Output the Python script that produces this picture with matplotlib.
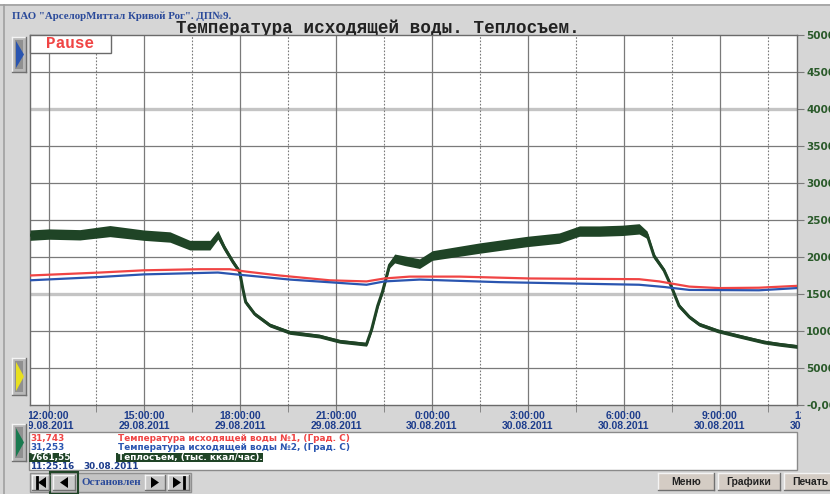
import numpy as np
import matplotlib.pyplot as plt
from matplotlib.patches import Rectangle, Polygon
from matplotlib.transforms import Bbox, TransformedBbox, blended_transform_factory

# hours since 11:25:16 29.08.2011 (24 h window)
heat_hours = [0, 0.59, 1.56, 2.5, 3.56, 4.38, 5.0, 5.63, 5.88, 6.09, 6.34, 6.56, 6.66,
              6.75, 7.03, 7.5, 8.13, 9.06, 9.69, 10.53, 10.69, 10.88, 11.03, 11.25, 11.41,
              11.72, 12.19, 12.59, 14.06, 15.56, 16.56, 17.19, 17.81, 18.53, 19.06, 19.31,
              19.53, 19.84, 20.06, 20.31, 20.63, 20.94, 21.53, 22.19, 22.97, 23.44, 24.0]
heat = [22950, 23100, 23000, 23500, 22950, 22700, 21600, 21600, 23000, 21200, 19400, 18000,
        15700, 13900, 12300, 10800, 9800, 9300, 8600, 8200, 10200, 13400, 15300, 18900, 19800,
        19500, 19100, 20200, 21200, 22100, 22550, 23500, 23500, 23600, 23800, 23000, 20100,
        18200, 16100, 13400, 11900, 10900, 10000, 9300, 8500, 8200, 7900]
heat_noise = [700, 700, 700, 750, 700, 700, 650, 650, 600, 400, 350, 300, 300, 300, 250, 250,
              250, 250, 250, 250, 300, 300, 300, 400, 600, 650, 650, 650, 700, 700, 700, 700,
              700, 700, 700, 500, 350, 300, 300, 300, 250, 250, 250, 250, 250, 250, 250]

red_hours = [0, 2.19, 3.56, 5.31, 6.25, 6.72, 7.81, 9.38, 10.53, 11.09, 11.88, 13.44, 15.63,
             19.06, 19.69, 20.63, 21.56, 22.81, 24.0]
temp1 = [35.0, 35.8, 36.4, 36.7, 36.7, 36.1, 35.0, 33.7, 33.4, 34.2, 34.7, 34.7, 34.2, 34.0,
         33.4, 32.0, 31.6, 31.7, 32.2]

blue_hours = [0, 2.19, 3.56, 5.88, 6.56, 8.13, 10.53, 11.09, 12.19, 14.69, 19.06, 19.84,
              20.63, 22.81, 24.0]
temp2 = [33.7, 34.6, 35.3, 35.8, 35.2, 33.9, 32.5, 33.4, 33.9, 33.2, 32.5, 31.9, 31.1, 31.0, 31.6]

tick_hours = [0.579 + 3 * k for k in range(9)]
tick_times = ["12:00:00", "15:00:00", "18:00:00", "21:00:00", "0:00:00", "3:00:00",
              "6:00:00", "9:00:00", "12:00:00"]
tick_dates = ["29.08.2011"] * 4 + ["30.08.2011"] * 5
y_ticks = list(range(0, 50001, 5000))
y_labels = ["-0,00"] + [str(v) for v in y_ticks[1:]]

W, H = 830, 494
BG = "#d6d6d6"
GREEN = "#1f4426"
RED = "#f04444"
BLUE = "#2a55b0"
NAVY = "#1c3c8c"


def px(x0, y0, x1, y1):
    return [x0 / W, 1 - y1 / H, (x1 - x0) / W, (y1 - y0) / H]


def button(a, x0, y0, x1, y1, face="#c8c8c8"):
    a.add_patch(Rectangle((x0, y0), x1 - x0, y1 - y0, facecolor=face, edgecolor="none"))
    a.plot([x0, x1], [y0, y0], color="#f4f4f4", lw=1)
    a.plot([x0, x0], [y0, y1], color="#f4f4f4", lw=1)
    a.plot([x0, x1], [y1, y1], color="#707070", lw=1)
    a.plot([x1, x1], [y0, y1], color="#707070", lw=1)


fig = plt.figure(figsize=(W / 100, H / 100), dpi=100, facecolor=BG)

# background layer in pixel coordinates
bg = fig.add_axes([0, 0, 1, 1], zorder=0)
bg.set_xlim(0, W)
bg.set_ylim(H, 0)
bg.axis("off")
bg.add_patch(Rectangle((0, 0), W, 4, facecolor="white", edgecolor="none"))
bg.plot([0, W], [5, 5], color="#a0a0a0", lw=1.2)
bg.plot([4, 4], [5, H], color="#a0a0a0", lw=1.2)

bg.text(12, 16, "ПАО \"АрселорМиттал Кривой Рог\". ДП№9.", color="#2a4a9a",
        family="Liberation Serif", weight="bold", fontsize=7.8, va="center", ha="left")
bg.text(378, 28, "Температура исходящей воды. Теплосъем.", color="#222222",
        family="Liberation Mono", weight="bold", fontsize=12.7, va="center", ha="center")

# main chart
ax = fig.add_axes(px(30, 35, 797, 405), zorder=2)
ax.set_facecolor("white")
tw = ax.twinx()

for v in y_ticks[1:-1]:
    if v in (15000, 40000):
        ax.axhline(v, color="#c4c4c4", lw=2.4, zorder=1)
    else:
        ax.axhline(v, color="#7a7a7a", lw=0.9, zorder=1)
for t in tick_hours:
    ax.axvline(t, color="#7a7a7a", lw=0.9, zorder=1)
    ax.axvline(t + 1.5, color="#7a7a7a", lw=0.8, ls=(0, (1.5, 1.5)), zorder=1)

lo = np.array(heat) - np.array(heat_noise)
hi = np.array(heat) + np.array(heat_noise)
ax.fill_between(heat_hours, lo, hi, color=GREEN, lw=0, zorder=3)
ax.plot(heat_hours, heat, color=GREEN, lw=2.2, zorder=3)

tw.set_ylim(0, 100)
tw.plot(red_hours, temp1, color=RED, lw=1.6, zorder=4)
tw.plot(blue_hours, temp2, color=BLUE, lw=1.6, zorder=4)
tw.axis("off")

ax.set_xticks(tick_hours)
ax.set_xticks([t + 1.5 for t in tick_hours], minor=True)
ax.tick_params(axis="x", which="both", direction="out", length=5, color="#7a7a7a",
               labelbottom=False)
ax.yaxis.tick_right()
ax.set_yticks(y_ticks)
ax.set_yticklabels(y_labels)
ax.tick_params(axis="y", direction="out", length=5, color="#7a7a7a", pad=1.5,
               labelsize=7.5, labelcolor="#2a5a2a")
for lab in ax.get_yticklabels():
    lab.set_fontweight("bold")
for s in ax.spines.values():
    s.set_color("#6a6a6a")
    s.set_linewidth(1.0)
ax.set_xlim(0, 24)
ax.set_ylim(0, 50000)

# time labels clipped to the chart width
clip = TransformedBbox(Bbox.from_extents(29 / W, 0, 801 / W, 1), fig.transFigure)
trans = blended_transform_factory(ax.transData, fig.transFigure)
for t, tm, dt in zip(tick_hours, tick_times, tick_dates):
    for txt, yy in ((tm, 416), (dt, 426)):
        fig.text(t, 1 - yy / H, txt, transform=trans, ha="center", va="center",
                 color=NAVY, fontsize=7.5, weight="bold", family="Liberation Sans",
                 clip_on=True, clip_box=clip)

# foreground layer (UI controls)
fg = fig.add_axes([0, 0, 1, 1], zorder=5)
fg.set_xlim(0, W)
fg.set_ylim(H, 0)
fg.axis("off")
fg.patch.set_alpha(0)

fg.add_patch(Rectangle((30, 35), 81, 18, facecolor="white", edgecolor="#6a6a6a", lw=1))
fg.text(70, 44, "Pause", color=RED, family="Liberation Mono", weight="bold",
        fontsize=11.5, ha="center", va="center")

for (y0, y1, col) in ((37, 72, "#2a55b0"), (358, 395, "#e8e020"), (424, 461, "#1a7a50")):
    button(fg, 12, y0, 26, y1, face="#b8b8b8")
    fg.add_patch(Rectangle((15, y0 + 3), 8, y1 - y0 - 6, facecolor="#909090", edgecolor="none"))
    fg.add_patch(Polygon([(16, y0 + 4), (24, (y0 + y1) / 2), (16, y1 - 4)], closed=True,
                         facecolor=col, edgecolor="none"))

# info box
fg.add_patch(Rectangle((29, 432), 768, 38, facecolor="white", edgecolor="#8a8a8a", lw=1))
fg.add_patch(Rectangle((29, 452.5), 41, 9.5, facecolor=GREEN, edgecolor="none"))
fg.add_patch(Rectangle((116, 452.5), 147, 9.5, facecolor=GREEN, edgecolor="none"))
info = dict(fontsize=6.4, weight="bold", family="DejaVu Sans", va="center", ha="left")
fg.text(30, 438, "31,743", color=RED, **info)
fg.text(118, 438, "Температура исходящей воды №1, (Град. С)", color=RED, **info)
fg.text(30, 447.5, "31,253", color=BLUE, **info)
fg.text(118, 447.5, "Температура исходящей воды №2, (Град. С)", color=BLUE, **info)
fg.text(30, 457, "7661,55", color="white", **info)
fg.text(118, 457, "Теплосъем, (тыс. ккал/час).", color="white", **info)
fg.text(30, 466, "11:25:16", color=NAVY, **info)
fg.text(83, 466, "30.08.2011", color=NAVY, **info)

# navigation bar
fg.add_patch(Rectangle((30, 473), 161, 19, facecolor="#c4c4c4", edgecolor="#909090", lw=1))
button(fg, 32, 475, 49, 490)
button(fg, 53, 475, 75, 490)
fg.add_patch(Rectangle((50, 472), 28, 22, facecolor="none", edgecolor=GREEN, lw=1.5))
button(fg, 145, 475, 165, 490)
button(fg, 168, 475, 189, 490)
fg.add_patch(Polygon([(46, 477), (46, 488), (38, 482.5)], facecolor="black"))
fg.plot([36.5, 36.5], [477, 488], color="black", lw=2)
fg.add_patch(Polygon([(68, 477), (68, 488), (60, 482.5)], facecolor="black"))
fg.add_patch(Polygon([(151, 477), (151, 488), (159, 482.5)], facecolor="black"))
fg.add_patch(Polygon([(173, 477), (173, 488), (181, 482.5)], facecolor="black"))
fg.plot([183.5, 183.5], [477, 488], color="black", lw=2)
fg.text(111, 482, "Остановлен", color="#2a4a9a", family="Liberation Serif", weight="bold",
        fontsize=8, ha="center", va="center")

for x0, x1, name in ((658, 714, "Меню"), (718, 780, "Графики"), (784, 840, "Печать")):
    button(fg, x0, 473, x1, 490, face="#d4ccc4")
    fg.text(x0 + 8 if name == "Печать" else (x0 + x1) / 2, 482, name, color="#222222",
            family="Liberation Sans", weight="bold", fontsize=7.5, va="center",
            ha="left" if name == "Печать" else "center")

fig.savefig("out.png", dpi=100, facecolor=BG)
